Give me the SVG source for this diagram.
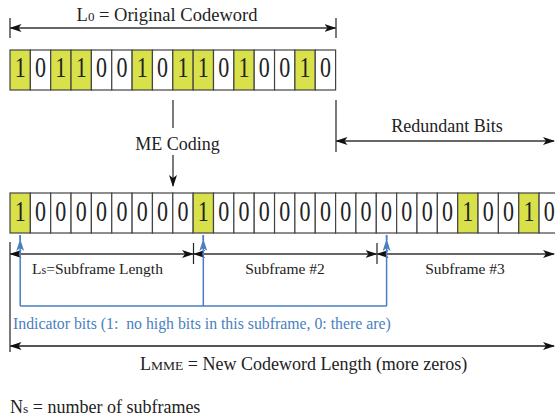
<svg xmlns="http://www.w3.org/2000/svg" width="555" height="420" viewBox="0 0 555 420">
<defs>
<marker id="ah" viewBox="0 0 12 8" refX="11" refY="4" markerWidth="12" markerHeight="8" markerUnits="userSpaceOnUse" orient="auto-start-reverse">
<path d="M0,0 L12,4 L0,8 L3,4 z" fill="#111"/>
</marker>
<marker id="ahb" viewBox="0 0 8 12" refX="4" refY="1" markerWidth="8" markerHeight="12" markerUnits="userSpaceOnUse" orient="0">
<path d="M4,0 L8,12 L4,9 L0,12 z" fill="#4a7fc1"/>
</marker>
<marker id="ahd" viewBox="0 0 8 12" refX="4" refY="11" markerWidth="8" markerHeight="12" markerUnits="userSpaceOnUse" orient="0">
<path d="M0,0 L4,3 L8,0 L4,12 z" fill="#111"/>
</marker>
</defs>
<style>
.c{fill:#fff;stroke:#444;stroke-width:1.2}
.y{fill:#d8e04a;stroke:#444;stroke-width:1.2}
.d{font-family:"Liberation Serif","Times New Roman",serif;font-size:22px;fill:#222;text-anchor:middle}
.t{font-family:"Liberation Serif","Times New Roman",serif;fill:#222}
.ln{stroke:#222;stroke-width:1.2;fill:none}
.dim{stroke:#333;stroke-width:1.3;fill:none;marker-start:url(#ah);marker-end:url(#ah)}
.blue{stroke:#4a7fc1;stroke-width:1.5;fill:none}
</style>
<rect width="555" height="420" fill="#fff"/>

<g id="original-codeword">
<rect class="y" x="10" y="50" width="20.35" height="40"/>
<rect class="c" x="30.35" y="50" width="20.35" height="40"/>
<rect class="y" x="50.7" y="50" width="20.35" height="40"/>
<rect class="y" x="71.05" y="50" width="20.35" height="40"/>
<rect class="c" x="91.4" y="50" width="20.35" height="40"/>
<rect class="c" x="111.75" y="50" width="20.35" height="40"/>
<rect class="y" x="132.1" y="50" width="20.35" height="40"/>
<rect class="c" x="152.45" y="50" width="20.35" height="40"/>
<rect class="y" x="172.8" y="50" width="20.35" height="40"/>
<rect class="y" x="193.15" y="50" width="20.35" height="40"/>
<rect class="c" x="213.5" y="50" width="20.35" height="40"/>
<rect class="y" x="233.85" y="50" width="20.35" height="40"/>
<rect class="c" x="254.2" y="50" width="20.35" height="40"/>
<rect class="c" x="274.55" y="50" width="20.35" height="40"/>
<rect class="y" x="294.9" y="50" width="20.35" height="40"/>
<rect class="c" x="315.25" y="50" width="20.35" height="40"/>
<g transform="translate(0,77) scale(1,1.35)">
<text class="d" x="20.18" y="0">1</text>
<text class="d" x="40.53" y="0">0</text>
<text class="d" x="60.88" y="0">1</text>
<text class="d" x="81.23" y="0">1</text>
<text class="d" x="101.58" y="0">0</text>
<text class="d" x="121.93" y="0">0</text>
<text class="d" x="142.28" y="0">1</text>
<text class="d" x="162.63" y="0">0</text>
<text class="d" x="182.98" y="0">1</text>
<text class="d" x="203.33" y="0">1</text>
<text class="d" x="223.68" y="0">0</text>
<text class="d" x="244.03" y="0">1</text>
<text class="d" x="264.38" y="0">0</text>
<text class="d" x="284.73" y="0">0</text>
<text class="d" x="305.08" y="0">1</text>
<text class="d" x="325.43" y="0">0</text>
</g>
</g>

<g id="new-codeword">
<rect class="y" x="10" y="193" width="20.35" height="40"/>
<rect class="c" x="30.35" y="193" width="20.35" height="40"/>
<rect class="c" x="50.7" y="193" width="20.35" height="40"/>
<rect class="c" x="71.05" y="193" width="20.35" height="40"/>
<rect class="c" x="91.4" y="193" width="20.35" height="40"/>
<rect class="c" x="111.75" y="193" width="20.35" height="40"/>
<rect class="c" x="132.1" y="193" width="20.35" height="40"/>
<rect class="c" x="152.45" y="193" width="20.35" height="40"/>
<rect class="c" x="172.8" y="193" width="20.35" height="40"/>
<rect class="y" x="193.15" y="193" width="20.35" height="40"/>
<rect class="c" x="213.5" y="193" width="20.35" height="40"/>
<rect class="c" x="233.85" y="193" width="20.35" height="40"/>
<rect class="c" x="254.2" y="193" width="20.35" height="40"/>
<rect class="c" x="274.55" y="193" width="20.35" height="40"/>
<rect class="c" x="294.9" y="193" width="20.35" height="40"/>
<rect class="c" x="315.25" y="193" width="20.35" height="40"/>
<rect class="c" x="335.6" y="193" width="20.35" height="40"/>
<rect class="c" x="355.95" y="193" width="20.35" height="40"/>
<rect class="c" x="376.3" y="193" width="20.35" height="40"/>
<rect class="c" x="396.65" y="193" width="20.35" height="40"/>
<rect class="c" x="417" y="193" width="20.35" height="40"/>
<rect class="c" x="437.35" y="193" width="20.35" height="40"/>
<rect class="y" x="457.7" y="193" width="20.35" height="40"/>
<rect class="c" x="478.05" y="193" width="20.35" height="40"/>
<rect class="c" x="498.4" y="193" width="20.35" height="40"/>
<rect class="y" x="518.75" y="193" width="20.35" height="40"/>
<rect class="c" x="539.1" y="193" width="20.35" height="40"/>
<g transform="translate(0,221) scale(1,1.35)">
<text class="d" x="20.18" y="0">1</text>
<text class="d" x="40.53" y="0">0</text>
<text class="d" x="60.88" y="0">0</text>
<text class="d" x="81.23" y="0">0</text>
<text class="d" x="101.58" y="0">0</text>
<text class="d" x="121.93" y="0">0</text>
<text class="d" x="142.28" y="0">0</text>
<text class="d" x="162.63" y="0">0</text>
<text class="d" x="182.98" y="0">0</text>
<text class="d" x="203.33" y="0">1</text>
<text class="d" x="223.68" y="0">0</text>
<text class="d" x="244.03" y="0">0</text>
<text class="d" x="264.38" y="0">0</text>
<text class="d" x="284.73" y="0">0</text>
<text class="d" x="305.08" y="0">0</text>
<text class="d" x="325.43" y="0">0</text>
<text class="d" x="345.78" y="0">0</text>
<text class="d" x="366.13" y="0">0</text>
<text class="d" x="386.48" y="0">0</text>
<text class="d" x="406.83" y="0">0</text>
<text class="d" x="427.18" y="0">0</text>
<text class="d" x="447.53" y="0">0</text>
<text class="d" x="467.88" y="0">1</text>
<text class="d" x="488.23" y="0">0</text>
<text class="d" x="508.58" y="0">0</text>
<text class="d" x="528.93" y="0">1</text>
<text class="d" x="549.28" y="0">0</text>
</g>
</g>

<g id="connectors">
<!-- L0 dimension -->
<line class="ln" x1="10" y1="18" x2="10" y2="38"/>
<line class="ln" x1="336" y1="18" x2="336" y2="38"/>
<line class="dim" x1="10.5" y1="28" x2="335.5" y2="28"/>
<!-- ME coding arrow -->
<line class="ln" x1="173" y1="100" x2="173" y2="128"/>
<line class="ln" x1="173" y1="155" x2="173" y2="186" marker-end="url(#ahd)"/>
<!-- Redundant bits -->
<line class="ln" x1="336" y1="100" x2="336" y2="152"/>
<line class="dim" x1="336.5" y1="141" x2="554" y2="141"/>
<!-- subframe dimensions -->
<line class="ln" x1="10" y1="242" x2="10" y2="352"/>
<line class="ln" x1="193.5" y1="243" x2="193.5" y2="264"/>
<line class="ln" x1="377" y1="243" x2="377" y2="264"/>
<line class="dim" x1="10.5" y1="254" x2="193" y2="254"/>
<line class="dim" x1="194" y1="254" x2="376.5" y2="254"/>
<line class="dim" x1="377.5" y1="254" x2="554" y2="254"/>
<!-- indicator bits -->
<path class="blue" d="M20.2,306 L386.6,306 M20.2,306 L20.2,235 M203.3,306 L203.3,235 M386.6,306 L386.6,235"/>
<line class="blue" x1="20.2" y1="240" x2="20.2" y2="235" marker-start="url(#ahb)"/>
<line class="blue" x1="203.3" y1="240" x2="203.3" y2="235" marker-start="url(#ahb)"/>
<line class="blue" x1="386.6" y1="240" x2="386.6" y2="235" marker-start="url(#ahb)"/>
<!-- LMME dimension -->
<line class="dim" x1="10.5" y1="346" x2="554" y2="346" style="stroke:#555;stroke-width:1.8"/>
</g>

<g id="labels">
<text class="t" x="167" y="21" font-size="18.5" text-anchor="middle">L<tspan font-size="13">0</tspan> = Original Codeword</text>
<text class="t" x="177.5" y="150" font-size="18" text-anchor="middle">ME Coding</text>
<text class="t" x="447" y="132" font-size="18" text-anchor="middle">Redundant Bits</text>
<text class="t" x="32" y="274" font-size="15.5">L<tspan font-size="12">s</tspan>=Subframe Length</text>
<text class="t" x="285" y="274" font-size="15.5" text-anchor="middle">Subframe #2</text>
<text class="t" x="465" y="274" font-size="15.5" text-anchor="middle">Subframe #3</text>
<text x="13" y="329" font-size="15.8" style="white-space:pre;font-family:'Liberation Serif','Times New Roman',serif;fill:#4a7fc1">Indicator bits (1:  no high bits in this subframe, 0: there are)</text>
<text class="t" x="140" y="370" font-size="18">L<tspan font-size="13.5">MME</tspan> = New Codeword Length (more zeros)</text>
<text class="t" x="10" y="413" font-size="18">N<tspan font-size="13.5">s</tspan> = number of subframes</text>
</g>
</svg>
